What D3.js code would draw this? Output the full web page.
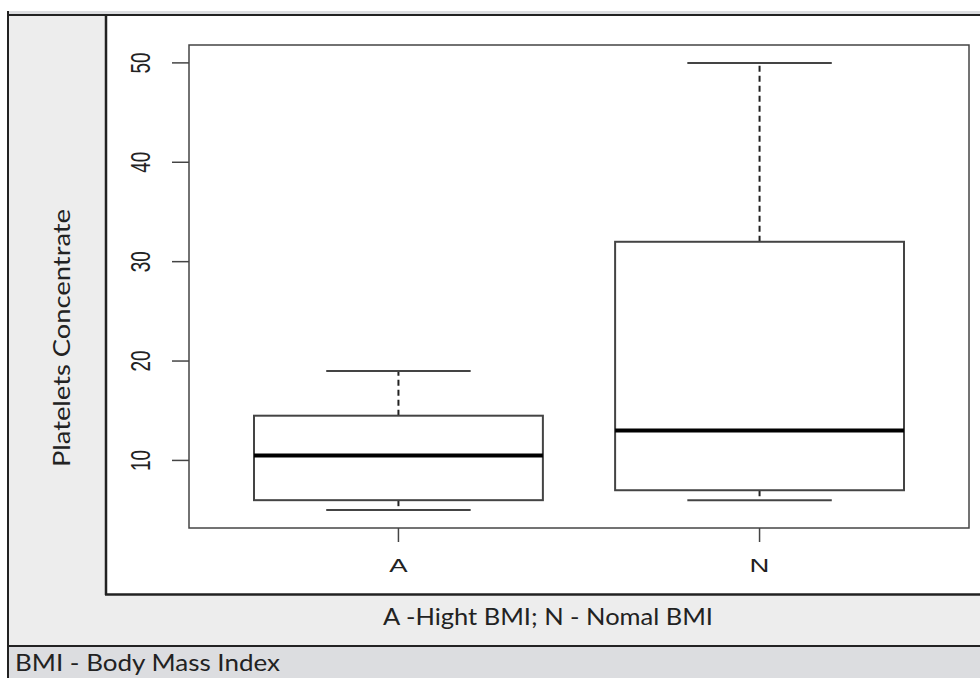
<!DOCTYPE html>
<html>
<head>
<meta charset="utf-8">
<script src="https://cdn.jsdelivr.net/npm/d3@7"></script>
<style>
  body { margin: 0; background: #fff; }
  svg { display: block; }
</style>
</head>
<body>
<script>
// box plot summary values
var categories = ["A", "N"];
var lowWhisker = [5, 6];
var q1 = [6, 7];
var median = [10.5, 13];
var q3 = [14.5, 32];
var highWhisker = [19, 50];
var yTicks = [10, 20, 30, 40, 50];

var w = 980, h = 678;

var svg = d3.select("body").append("svg")
    .attr("width", w)
    .attr("height", h);

//table-like frame around the plot
svg.append("rect").attr("x", 8).attr("y", 11).attr("width", w - 8).attr("height", 5).style("fill", "#dcdde0");
svg.append("rect").attr("x", 9).attr("y", 16).attr("width", w - 9).attr("height", 630).style("fill", "#ededed");
svg.append("rect").attr("x", 107).attr("y", 16).attr("width", w - 107).attr("height", 578).style("fill", "#fff");
svg.append("rect").attr("x", 9).attr("y", 647).attr("width", w - 9).attr("height", h - 647).style("fill", "#dcdde0");

var dark = "#222";
svg.append("line").attr("x1", 8).attr("x2", w).attr("y1", 15).attr("y2", 15).style("stroke", dark).style("stroke-width", 2);
svg.append("line").attr("x1", 8).attr("x2", 8).attr("y1", 11).attr("y2", h).style("stroke", dark).style("stroke-width", 2);
svg.append("line").attr("x1", 106).attr("x2", 106).attr("y1", 15).attr("y2", 595).style("stroke", dark).style("stroke-width", 2.5);
svg.append("line").attr("x1", 105).attr("x2", w).attr("y1", 594.5).attr("y2", 594.5).style("stroke", dark).style("stroke-width", 2.5);
svg.append("line").attr("x1", 8).attr("x2", w).attr("y1", 646).attr("y2", 646).style("stroke", dark).style("stroke-width", 2);

//scales (R style: 4% padding around the data range)
var y = d3.scaleLinear()
    .domain([3.2, 51.8])
    .range([528, 45]);

var x = d3.scaleLinear()
    .domain([0.42, 2.58])
    .range([189, 969]);

var frameColor = "#444";
var stretch = 1.45;   //the picture is stretched sideways, text too

//plot frame
svg.append("rect")
    .attr("x", 189).attr("y", 45)
    .attr("width", 969 - 189).attr("height", 528 - 45)
    .style("fill", "none")
    .style("stroke", frameColor)
    .style("stroke-width", 1.5);

//y axis: ticks and rotated labels
var yAxis = svg.append("g").attr("class", "y-axis");
yAxis.selectAll("line")
    .data(yTicks)
    .enter()
    .append("line")
    .attr("x1", 172).attr("x2", 189)
    .attr("y1", function(d){ return y(d); })
    .attr("y2", function(d){ return y(d); })
    .style("stroke", frameColor)
    .style("stroke-width", 1.5);

yAxis.selectAll("text")
    .data(yTicks)
    .enter()
    .append("text")
    .attr("transform", function(d){
        return "translate(150," + y(d) + ") scale(" + stretch + ",1) rotate(-90)";
    })
    .attr("text-anchor", "middle")
    .style("font-family", "'Liberation Sans', Arial, sans-serif")
    .style("font-size", "19px")
    .style("fill", "#222")
    .text(function(d){ return d; });

//x axis: ticks and labels
var xAxis = svg.append("g").attr("class", "x-axis");
xAxis.selectAll("line")
    .data(categories)
    .enter()
    .append("line")
    .attr("x1", function(d, i){ return x(i + 1); })
    .attr("x2", function(d, i){ return x(i + 1); })
    .attr("y1", 528).attr("y2", 542)
    .style("stroke", frameColor)
    .style("stroke-width", 1.5);

xAxis.selectAll("text")
    .data(categories)
    .enter()
    .append("text")
    .attr("transform", function(d, i){
        return "translate(" + x(i + 1) + ",572) scale(" + stretch + ",1)";
    })
    .attr("text-anchor", "middle")
    .style("font-family", "'Liberation Sans', Arial, sans-serif")
    .style("font-size", "19px")
    .style("fill", "#222")
    .text(function(d){ return d; });

//boxes
var boxHalf = 0.4, capHalf = 0.2;
var boxes = svg.selectAll(".box")
    .data(categories)
    .enter()
    .append("g")
    .attr("class", "box");

//dashed whiskers
boxes.append("line")
    .attr("x1", function(d, i){ return x(i + 1); })
    .attr("x2", function(d, i){ return x(i + 1); })
    .attr("y1", function(d, i){ return y(q3[i]); })
    .attr("y2", function(d, i){ return y(highWhisker[i]); })
    .style("stroke", "#222").style("stroke-width", 2).style("stroke-dasharray", "6,4");
boxes.append("line")
    .attr("x1", function(d, i){ return x(i + 1); })
    .attr("x2", function(d, i){ return x(i + 1); })
    .attr("y1", function(d, i){ return y(q1[i]); })
    .attr("y2", function(d, i){ return y(lowWhisker[i]); })
    .style("stroke", "#222").style("stroke-width", 2).style("stroke-dasharray", "6,4");

//caps
boxes.append("line")
    .attr("x1", function(d, i){ return x(i + 1 - capHalf); })
    .attr("x2", function(d, i){ return x(i + 1 + capHalf); })
    .attr("y1", function(d, i){ return y(highWhisker[i]); })
    .attr("y2", function(d, i){ return y(highWhisker[i]); })
    .style("stroke", frameColor).style("stroke-width", 2);
boxes.append("line")
    .attr("x1", function(d, i){ return x(i + 1 - capHalf); })
    .attr("x2", function(d, i){ return x(i + 1 + capHalf); })
    .attr("y1", function(d, i){ return y(lowWhisker[i]); })
    .attr("y2", function(d, i){ return y(lowWhisker[i]); })
    .style("stroke", frameColor).style("stroke-width", 2);

//box
boxes.append("rect")
    .attr("x", function(d, i){ return x(i + 1 - boxHalf); })
    .attr("y", function(d, i){ return y(q3[i]); })
    .attr("width", function(d, i){ return x(i + 1 + boxHalf) - x(i + 1 - boxHalf); })
    .attr("height", function(d, i){ return y(q1[i]) - y(q3[i]); })
    .style("fill", "#fff")
    .style("stroke", frameColor)
    .style("stroke-width", 2);

//median
boxes.append("line")
    .attr("x1", function(d, i){ return x(i + 1 - boxHalf); })
    .attr("x2", function(d, i){ return x(i + 1 + boxHalf); })
    .attr("y1", function(d, i){ return y(median[i]); })
    .attr("y2", function(d, i){ return y(median[i]); })
    .style("stroke", "#000").style("stroke-width", 4);

//texts of the table
var labelFont = "Lato, 'Open Sans', sans-serif";
svg.append("text")
    .attr("transform", "translate(70,338) rotate(-90)")
    .attr("text-anchor", "middle")
    .attr("textLength", 258)
    .attr("lengthAdjust", "spacingAndGlyphs")
    .style("font-family", labelFont)
    .style("font-size", "24px")
    .style("fill", "#222")
    .text("Platelets Concentrate");

svg.append("text")
    .attr("x", 548).attr("y", 625)
    .attr("text-anchor", "middle")
    .attr("textLength", 330)
    .attr("lengthAdjust", "spacingAndGlyphs")
    .style("font-family", labelFont)
    .style("font-size", "24px")
    .style("fill", "#222")
    .text("A -Hight BMI; N - Nomal BMI");

svg.append("text")
    .attr("x", 15).attr("y", 671)
    .attr("textLength", 265)
    .attr("lengthAdjust", "spacingAndGlyphs")
    .style("font-family", labelFont)
    .style("font-size", "24px")
    .style("fill", "#222")
    .text("BMI - Body Mass Index");
</script>
</body>
</html>
